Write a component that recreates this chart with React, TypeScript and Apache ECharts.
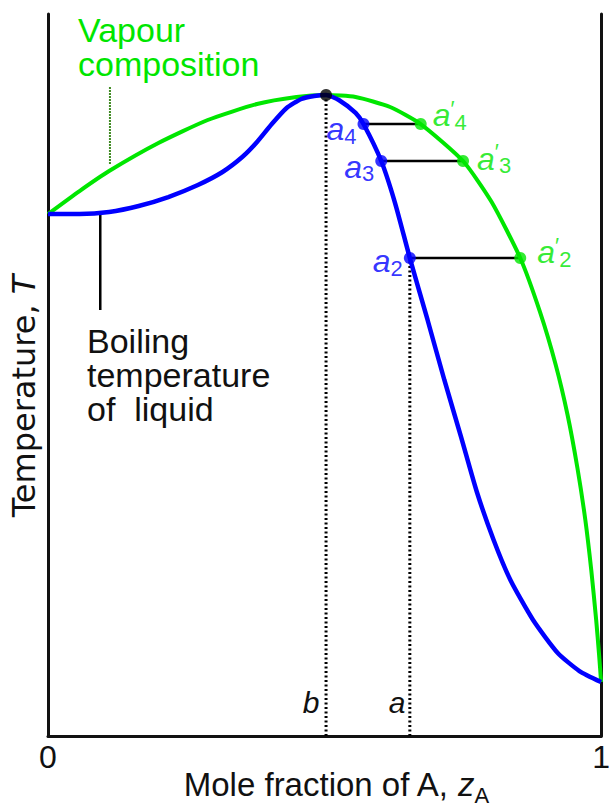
import React, { useEffect, useRef } from "react";
import * as echarts from "echarts";

// Boiling temperature of the liquid (x = mole fraction of A, T in arbitrary units)
const liquidCurve: number[][] = [
  [0, 72.3], [0.057, 72.3], [0.1105, 72.58], [0.164, 73.41], [0.2175, 74.65],
  [0.271, 76.32], [0.3155, 78.12], [0.3512, 80.19], [0.3779, 82.27], [0.4046, 84.76],
  [0.4314, 86.98], [0.4581, 88.23], [0.4813, 88.64], [0.5027, 88.78], [0.5258, 88.09],
  [0.5561, 86.29], [0.5704, 84.76], [0.6025, 79.64], [0.6275, 73.82], [0.6542, 66.2],
  [0.6863, 57.62], [0.7166, 49.31], [0.7469, 41.41], [0.7754, 33.8], [0.8057, 27.15],
  [0.836, 21.61], [0.877, 16.07], [0.9216, 11.5], [0.9608, 9.0], [1, 7.48],
];

// Composition of the vapour in equilibrium with the liquid
const vapourCurve: number[][] = [
  [0, 72.3], [0.057, 75.48], [0.1105, 78.25], [0.1996, 82.13], [0.2888, 85.32],
  [0.3779, 87.53], [0.4492, 88.5], [0.5027, 88.78], [0.5561, 88.5], [0.6185, 87.12],
  [0.6738, 84.76], [0.7504, 79.64], [0.8021, 73.96], [0.8538, 66.2], [0.8895, 58.73],
  [0.918, 51.39], [0.9394, 44.46], [0.9572, 37.12], [0.9715, 29.92], [0.9822, 22.99],
  [0.9911, 16.07], [0.9964, 11.22], [1, 7.48],
];

// Tie lines of the distillation steps a4, a3, a2
const tieSteps = ["4", "3", "2"];
const tieLevels = [84.76, 79.64, 66.2];
const tieLiquidX = [0.5704, 0.6025, 0.6542];
const tieVapourX = [0.6738, 0.7504, 0.8538];

// Azeotrope (b) and starting composition (a)
const azeotropeX = 0.5027;
const azeotropeT = 88.78;
const feedX = 0.6542;
const feedT = 66.2;

// Leader lines of the two annotations
const vapourLeader: number[][] = [[0.112, 89.9], [0.112, 79.1]];
const liquidLeader: number[][] = [[0.0945, 72.2], [0.0945, 59.0]];

const xTickLabels = ["0", "1"];

const SANS = "'Liberation Sans', Arial, sans-serif";
const BLUE = "#0000ff";
const GREEN = "#00e600";
const INK = "#111";

const liquidLabelOffsets = [[4, 5], [4, 6], [4, 3]];
const vapourLabelOffsets = [[0, -9], [2, -2], [5, -6]];

function stepRich(color: string) {
  return {
    a: { fontSize: 32, fontStyle: "italic", color, fontFamily: SANS, lineHeight: 36 },
    p: { fontSize: 22, color, fontFamily: SANS, lineHeight: 36, verticalAlign: "top" },
    s: { fontSize: 22, color, fontFamily: SANS, lineHeight: 14, verticalAlign: "bottom" },
  };
}

function buildOption(): any {
  const axisLine = { show: true, onZero: false, lineStyle: { color: INK, width: 3 } };
  const series: any[] = [];

  // dotted verticals at b and a
  series.push({
    type: "line", data: [[azeotropeX, 0], [azeotropeX, azeotropeT]], symbol: "none", z: 1,
    lineStyle: { color: "#000", width: 3, type: [2, 2.5] },
  });
  series.push({
    type: "line", data: [[feedX, 0], [feedX, feedT]], symbol: "none", z: 1,
    lineStyle: { color: "#000", width: 3, type: [2, 2.5] },
  });

  // leader lines
  series.push({
    type: "line", data: vapourLeader, symbol: "none", z: 1,
    lineStyle: { color: "#3f8a22", width: 2, type: [2, 1] },
  });
  series.push({
    type: "line", data: liquidLeader, symbol: "none", z: 1,
    lineStyle: { color: "#000", width: 2.5 },
  });

  // tie lines
  tieLevels.forEach((t, i) => {
    series.push({
      type: "line", data: [[tieLiquidX[i], t], [tieVapourX[i], t]], symbol: "none", z: 2,
      lineStyle: { color: "#000", width: 2.5 },
    });
  });

  series.push({
    name: "Vapour", type: "line", data: vapourCurve, smooth: 0.2, symbol: "none", z: 3,
    lineStyle: { color: GREEN, width: 4 },
  });
  series.push({
    name: "Liquid", type: "line", data: liquidCurve, smooth: 0.2, symbol: "none", z: 4,
    lineStyle: { color: BLUE, width: 4.5 },
  });

  series.push({
    type: "scatter", z: 5, symbolSize: 12, itemStyle: { color: BLUE },
    data: tieLevels.map((t, i) => ({
      value: [tieLiquidX[i], t],
      label: {
        show: true, position: "left", distance: 5, offset: liquidLabelOffsets[i],
        formatter: `{a|a}{s|${tieSteps[i]}}`, rich: stepRich(BLUE),
      },
    })),
  });
  series.push({
    type: "scatter", z: 5, symbolSize: 12, itemStyle: { color: GREEN },
    data: tieLevels.map((t, i) => ({
      value: [tieVapourX[i], t],
      label: {
        show: true, position: "right", distance: 6, offset: vapourLabelOffsets[i],
        formatter: `{a|a}{p|′}{s|${tieSteps[i]}}`, rich: stepRich(GREEN),
      },
    })),
  });
  series.push({
    type: "scatter", z: 6, symbolSize: 12, itemStyle: { color: "#000" },
    data: [[azeotropeX, azeotropeT]],
  });

  const graphic: any[] = [
    {
      type: "text", x: 78, y: 13,
      style: { text: "Vapour\ncomposition", fontSize: 34, lineHeight: 34, fontFamily: SANS, fill: GREEN, verticalAlign: "top" },
    },
    {
      type: "text", x: 87, y: 324,
      style: { text: "Boiling\ntemperature\nof  liquid", fontSize: 34, lineHeight: 34, fontFamily: SANS, fill: INK, verticalAlign: "top" },
    },
    { type: "text", x: 311, y: 702, style: { text: "b", fontSize: 30, fontStyle: "italic", fontFamily: SANS, fill: INK, align: "center", verticalAlign: "middle" } },
    { type: "text", x: 397, y: 702, style: { text: "a", fontSize: 30, fontStyle: "italic", fontFamily: SANS, fill: INK, align: "center", verticalAlign: "middle" } },
    {
      type: "text", x: 336, y: 784,
      style: {
        text: "{n|Mole fraction of A, }{i|z}{s|A}", align: "center", verticalAlign: "middle",
        rich: {
          n: { fontSize: 33, fontFamily: SANS, fill: INK, lineHeight: 44 },
          i: { fontSize: 33, fontStyle: "italic", fontFamily: SANS, fill: INK, lineHeight: 44 },
          s: { fontSize: 22, fontFamily: SANS, fill: INK, lineHeight: 18, verticalAlign: "bottom" },
        },
      },
    },
    {
      type: "text", x: 24, y: 396, rotation: Math.PI / 2,
      style: {
        text: "{n|Temperature, }{i|T}", align: "center", verticalAlign: "middle",
        rich: {
          n: { fontSize: 32, fontFamily: "'DejaVu Sans', sans-serif", fill: INK },
          i: { fontSize: 32, fontStyle: "italic", fontFamily: "'DejaVu Sans', sans-serif", fill: INK },
        },
      },
    },
  ];

  return {
    animation: false,
    backgroundColor: "#fff",
    grid: { left: 48, top: 14, right: 4, bottom: 70, show: false },
    xAxis: {
      type: "value", min: 0, max: 1, interval: 1, axisLine,
      axisTick: { show: false }, splitLine: { show: false },
      axisLabel: {
        fontSize: 32, color: INK, fontFamily: SANS, margin: 5,
        formatter: (v: number) => xTickLabels[Math.round(v)] ?? "",
      },
    },
    yAxis: [
      {
        type: "value", min: 0, max: 100, position: "left", axisLine,
        axisTick: { show: false }, axisLabel: { show: false }, splitLine: { show: false },
      },
      {
        type: "value", min: 0, max: 100, position: "right", axisLine,
        axisTick: { show: false }, axisLabel: { show: false }, splitLine: { show: false },
      },
    ],
    series,
    graphic,
  };
}

export default function App() {
  const ref = useRef<HTMLDivElement>(null);
  useEffect(() => {
    const chart = echarts.init(ref.current!, null, { renderer: "svg" });
    chart.setOption(buildOption());
    return () => chart.dispose();
  }, []);
  return (
    <div
      ref={ref}
      style={{ position: "fixed", left: 0, top: 0, width: 613, height: 806, background: "#fff" }}
    />
  );
}
